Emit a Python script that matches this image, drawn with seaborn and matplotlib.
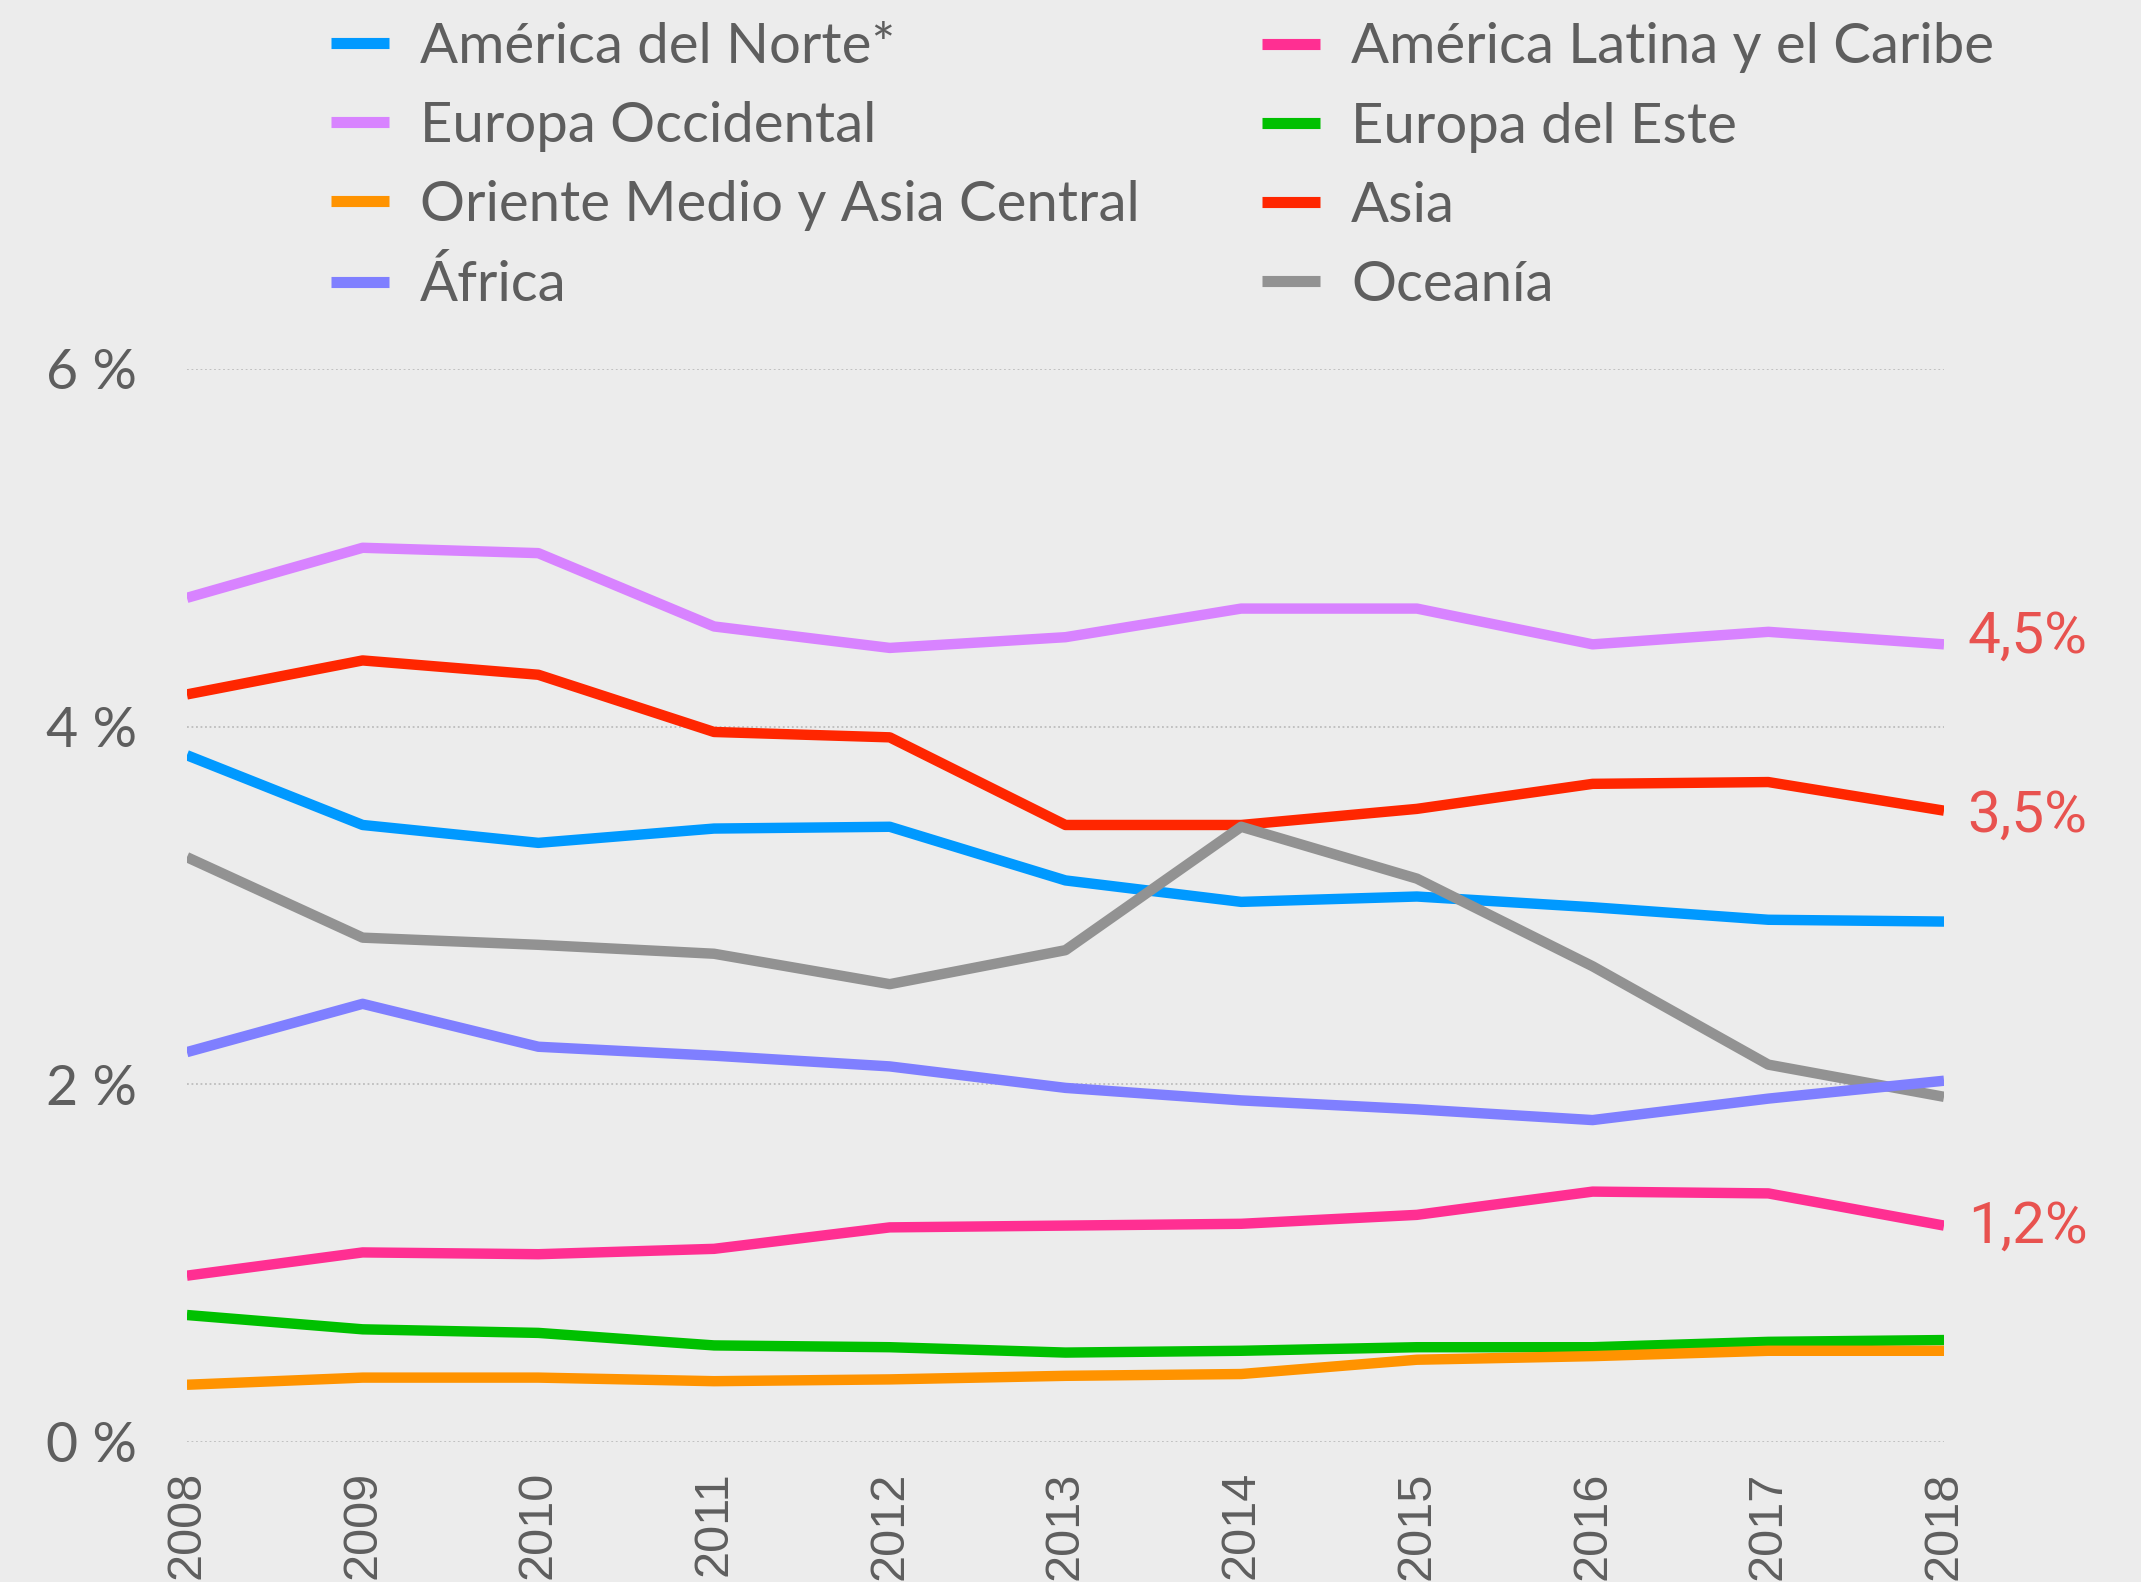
import matplotlib
matplotlib.use('Agg')
import matplotlib.pyplot as plt
import seaborn as sns
import pandas as pd

# ---- data ----
years = [2008, 2009, 2010, 2011, 2012, 2013, 2014, 2015, 2016, 2017, 2018]
america_norte = [3.84, 3.45, 3.35, 3.43, 3.44, 3.14, 3.02, 3.05, 2.99, 2.92, 2.91]
europa_occidental = [4.72, 5.00, 4.97, 4.56, 4.44, 4.50, 4.66, 4.66, 4.46, 4.53, 4.46]
oriente_medio = [0.32, 0.36, 0.36, 0.34, 0.35, 0.37, 0.38, 0.46, 0.48, 0.51, 0.51]
africa = [2.18, 2.45, 2.21, 2.16, 2.10, 1.98, 1.91, 1.86, 1.80, 1.92, 2.02]
america_latina = [0.93, 1.06, 1.05, 1.08, 1.20, 1.21, 1.22, 1.27, 1.40, 1.39, 1.21]
europa_este = [0.71, 0.63, 0.61, 0.54, 0.53, 0.50, 0.51, 0.53, 0.53, 0.56, 0.57]
asia = [4.18, 4.37, 4.29, 3.97, 3.94, 3.45, 3.45, 3.54, 3.68, 3.69, 3.53]
oceania = [3.27, 2.82, 2.78, 2.73, 2.56, 2.75, 3.44, 3.15, 2.66, 2.11, 1.93]

series_names = ["América del Norte*", "Europa Occidental", "Oriente Medio y Asia Central", "África",
                "América Latina y el Caribe", "Europa del Este", "Asia", "Oceanía"]
series_values = [america_norte, europa_occidental, oriente_medio, africa,
                 america_latina, europa_este, asia, oceania]
series_colors = ["#0099FF", "#D883FF", "#FF9300", "#7F7FFF",
                 "#FF2F92", "#00C000", "#FF2600", "#929292"]

y_ticks = [0, 2, 4, 6]
y_tick_labels = ["0 %", "2 %", "4 %", "6 %"]

annot_values = [4.5, 3.5, 1.2]
annot_labels = ["4,5%", "3,5%", "1,2%"]

# ---- style ----
bg = "#ECECEC"
text_grey = "#5E5E5E"
sns.set_theme(style="white")
plt.rcParams['font.family'] = ['Lato', 'DejaVu Sans']

rows = []
for name, vals in zip(series_names, series_values):
    for yr, v in zip(years, vals):
        rows.append({"Año": yr, "Valor": v, "Región": name})
df = pd.DataFrame(rows)

fig = plt.figure(figsize=(21.41, 15.82), dpi=100, facecolor=bg)
ax = fig.add_axes([0.0873, 0.0885, 0.8207, 0.6783])
ax.set_facecolor(bg)

sns.lineplot(data=df, x="Año", y="Valor", hue="Región", hue_order=series_names,
             palette=dict(zip(series_names, series_colors)), linewidth=7.5,
             solid_capstyle='butt', ax=ax, legend=True)

for line in ax.lines:
    line.set_solid_capstyle('butt')
zmap = {"África": 5, "Oriente Medio y Asia Central": 4.5}
for line, name in zip(ax.lines[:len(series_names)], series_names):
    line.set_zorder(zmap.get(name, 3))

handles, labels = ax.get_legend_handles_labels()
ax.get_legend().remove()
for h in handles:
    h.set_linewidth(8)
    h.set_solid_capstyle('butt')

legend_kw = dict(frameon=False, fontsize=40.5, handlelength=1.04, handletextpad=0.55,
                 labelspacing=0.5, borderpad=0, borderaxespad=0, loc='center left',
                 labelcolor=text_grey)
fig.legend(handles[:4], labels[:4], bbox_to_anchor=(0.1545, 0.8947), **legend_kw)
fig.legend(handles[4:], labels[4:], bbox_to_anchor=(0.5893, 0.8947), **legend_kw)

ax.set_xlim(years[0], years[-1])
ax.set_ylim(0, 6)
ax.set_xlabel("")
ax.set_ylabel("")
for s in ax.spines.values():
    s.set_visible(False)

ax.set_yticks(y_ticks)
ax.set_yticklabels(y_tick_labels)
ax.tick_params(axis='y', length=0, pad=36, labelsize=40, labelcolor=text_grey)
ax.set_xticks(years)
ax.set_xticklabels([str(y) for y in years], rotation=90, family='Liberation Sans')
ax.tick_params(axis='x', length=0, pad=21, labelsize=35, labelcolor=text_grey)

ax.yaxis.grid(True, linestyle=(0, (1, 1.5)), color='#BDBDBD', linewidth=1.3)
ax.xaxis.grid(False)
ax.set_axisbelow(True)

for val, lab in zip(annot_values, annot_labels):
    ax.annotate(lab, xy=(years[-1], val), xytext=(17, 0), textcoords='offset points',
                ha='left', va='center', fontsize=42, color='#E8524F',
                family='Roboto', fontweight='normal', annotation_clip=False)

fig.savefig("out.png", dpi=100, facecolor=bg)
